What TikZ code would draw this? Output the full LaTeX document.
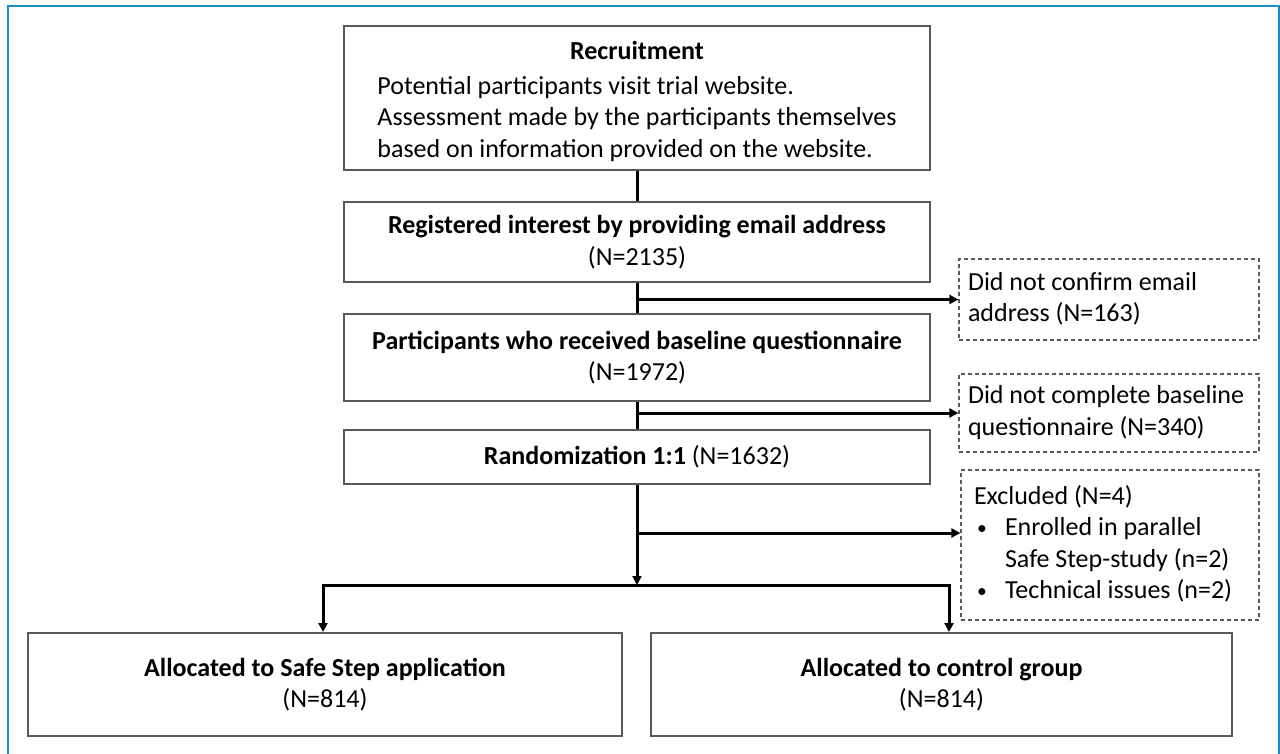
\documentclass[tikz,border=0pt]{standalone}
\usepackage{fontspec}
\setmainfont{Carlito}
\usetikzlibrary{positioning, calc, arrows.meta}
\definecolor{framecol}{HTML}{1E8BC3}
\definecolor{boxcol}{HTML}{595959}
\newcommand{\dotitem}{\hspace*{3pt}\makebox[28pt][l]{\raisebox{1pt}{\scalebox{0.75}{\textbullet}}}}

\begin{document}
\begin{tikzpicture}[x=1pt,y=-1pt,>={Triangle[length=9pt,width=9pt]},
  every node/.style={font=\fontsize{26}{31.5}\selectfont, inner sep=0pt, align=center},
  stage/.style={draw=boxcol, line width=2pt, rectangle, minimum width=586pt},
  alloc/.style={draw=boxcol, line width=2pt, rectangle, minimum height=103pt},
  dropped/.style={draw=boxcol, line width=1.2pt, dash pattern=on 4pt off 3pt, rectangle,
    inner xsep=9pt},
  flow/.style={line width=3pt, black}]
  \useasboundingbox (0,0) rectangle (1280,754);
  \draw[framecol, line width=2.5pt] (8,6) rectangle (1279,800);

  \node[stage, minimum height=144pt] (recruit) at (637,98) {\begin{tabular}{@{}l@{}}
    \multicolumn{1}{@{}c@{}}{\rule{0pt}{30pt}\bfseries Recruitment}\\[3pt]
    Potential participants visit trial website.\\
    Assessment made by the participants themselves\\
    based on information provided on the website.\end{tabular}};
  \node[stage, minimum height=80pt] (reg) at (637,242) {\bfseries Registered interest by providing email address\\(N=2135)};
  \node[stage, minimum height=87pt] (part) at (637,357.5) {\bfseries Participants who received baseline questionnaire\\(N=1972)};
  \node[stage, minimum height=54pt] (rand) at (637,457) {\textbf{Randomization 1:1} (N=1632)};

  \node[dropped, minimum height=81pt] (drop1) at (1109,299.5) {\makebox[282pt][l]{\begin{tabular}{@{}l@{}}
    Did not confirm email\\address (N=163)\end{tabular}}};
  \node[dropped, minimum height=78pt] (drop2) at (1109,413) {\makebox[282pt][l]{\begin{tabular}{@{}l@{}}
    Did not complete baseline\\questionnaire (N=340)\end{tabular}}};
  \node[dropped, minimum height=150pt, inner xsep=13pt] (drop3) at (1110,545) {\makebox[272pt][l]{\begin{tabular}{@{}l@{}}
    Excluded (N=4)\\
    \dotitem Enrolled in parallel\\
    \hspace*{31pt}Safe Step-study (n=2)\\
    \dotitem Technical issues (n=2)\end{tabular}}};

  \node[alloc, minimum width=594pt] (safe) at (325,684.5) {\bfseries Allocated to Safe Step application\\(N=814)};
  \node[alloc, minimum width=581pt] (ctrl) at (941.5,684.5) {\bfseries Allocated to control group\\(N=814)};

  \coordinate (excl) at (637,533);
  \coordinate (split) at (637,585);
  \coordinate (lsplit) at (323,585);
  \coordinate (rsplit) at (949,585);

  \draw[flow] (recruit) -- (reg);
  \draw[flow] (reg) -- (part);
  \draw[flow] (part) -- (rand);
  \draw[flow,->] (reg.south |- drop1.west) -- (drop1.west);
  \draw[flow,->] (part.south |- drop2.west) -- (drop2.west);
  \draw[flow,->] (excl) -- (excl -| drop3.west);
  \draw[flow,->] (rand) -- (split);
  \draw[flow,<->] (lsplit |- safe.north) -- (lsplit) -- (rsplit) -- (rsplit |- ctrl.north);
\end{tikzpicture}
\end{document}
